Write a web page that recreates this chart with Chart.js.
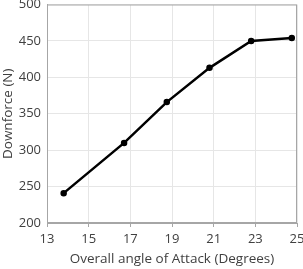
<!DOCTYPE html>
<html>
<head>
<meta charset="utf-8">
<script src="https://cdn.jsdelivr.net/npm/chart.js@4"></script>
<style>
  html, body { margin: 0; padding: 0; background: #fff; }
  #wrap { width: 303px; height: 269px; }
</style>
</head>
<body>
<div id="wrap"><canvas id="grafico"></canvas></div>
<script>
// angle of attack (degrees) and downforce (N)
const angulos = [13.8, 16.7, 18.75, 20.8, 22.8, 24.75];
const downforce = [241, 310, 366, 413, 450, 454];
const xTicks = [13, 15, 17, 19, 21, 23, 25];
const yTicks = [200, 250, 300, 350, 400, 450, 500];

const borda = {
  id: "borda",
  afterDatasetsDraw(chart) {
    const { ctx, chartArea: a } = chart;
    ctx.save();
    ctx.strokeStyle = "#a6a6a6";
    ctx.lineWidth = 1;
    ctx.strokeRect(a.left + 0.5, a.top + 0.5, a.right - a.left - 1, a.bottom - a.top - 1);
    ctx.restore();
  }
};

const fonte = "'Open Sans', 'Liberation Sans', sans-serif";

new Chart(document.getElementById("grafico"), {
  type: "line",
  data: {
    datasets: [{
      data: angulos.map((a, i) => ({ x: a, y: downforce[i] })),
      borderColor: "#000",
      backgroundColor: "#000",
      borderWidth: 2.5,
      pointRadius: 2,
      pointHoverRadius: 2,
      tension: 0
    }]
  },
  options: {
    responsive: true,
    maintainAspectRatio: false,
    animation: false,
    layout: { padding: { top: 4, right: 6, bottom: 2, left: 0 } },
    plugins: { legend: { display: false }, tooltip: { enabled: false } },
    scales: {
      x: {
        type: "linear",
        min: 13, max: 25,
        afterBuildTicks: s => { s.ticks = xTicks.map(v => ({ value: v })); },
        afterFit: s => { s.height = 44; s.paddingRight = 0; s.paddingLeft = 0; },
        grid: { color: "#e6e6e6", tickLength: 4, tickColor: "#a6a6a6" },
        border: { color: "#a6a6a6" },
        ticks: { color: "#404040", font: { family: fonte, size: 13 }, padding: 4, maxRotation: 0 },
        title: { display: true, text: "Overall angle of Attack (Degrees)", color: "#404040",
                 font: { family: fonte, size: 13.5 }, padding: { top: 0, bottom: 0 } }
      },
      y: {
        min: 200, max: 500,
        afterBuildTicks: s => { s.ticks = yTicks.map(v => ({ value: v })); },
        afterFit: s => { s.width = 47; s.paddingTop = 0; s.paddingBottom = 0; },
        grid: { color: "#e6e6e6", tickLength: 0 },
        border: { color: "#a6a6a6" },
        ticks: { color: "#404040", font: { family: fonte, size: 13 }, padding: 6 },
        title: { display: true, text: "Downforce (N)", color: "#404040",
                 font: { family: fonte, size: 13.5 }, padding: { top: 0, bottom: 2 } }
      }
    }
  },
  plugins: [borda]
});
</script>
</body>
</html>
